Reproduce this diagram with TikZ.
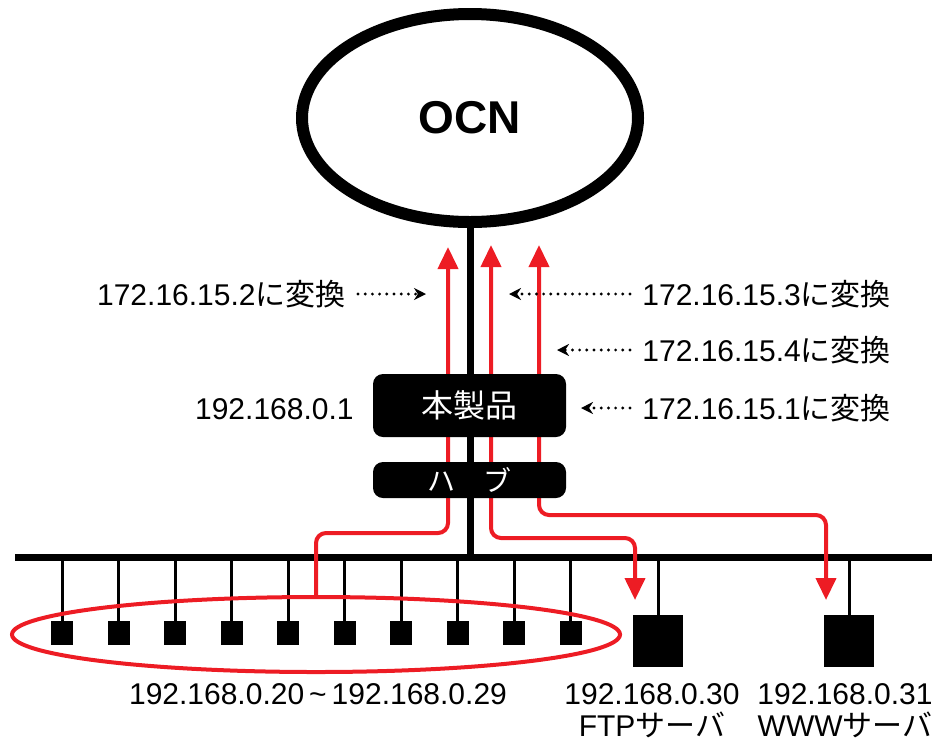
\documentclass[tikz,border=0pt]{standalone}
\usepackage{fontspec}
\setmainfont{Liberation Sans}
\newfontfamily\jpfont{Noto Sans CJK JP}
\usetikzlibrary{shapes.geometric, arrows.meta, backgrounds}
\definecolor{netred}{RGB}{237,28,36}
\tikzstyle{cloud} = [
    ellipse,
    draw=black,
    line width=6pt,
    minimum width=168pt,
    minimum height=104pt,
    font=\bfseries\fontsize{23}{27}\selectfont
]
\tikzstyle{device} = [
    rectangle,
    rounded corners=5pt,
    fill=black,
    text=white,
    minimum width=96.5pt
]
\tikzstyle{pc} = [
    rectangle,
    fill=black,
    minimum width=11pt,
    minimum height=12pt,
    inner sep=0pt
]
\tikzstyle{server} = [
    rectangle,
    fill=black,
    minimum width=25pt,
    minimum height=26pt,
    inner sep=0pt
]
\tikzstyle{addr} = [font=\fontsize{15}{16}\selectfont, inner sep=2pt]
\tikzstyle{wire} = [line width=3.5pt]
\tikzstyle{drop} = [line width=1.5pt]
\tikzstyle{redarrow} = [
    draw=netred,
    line width=2pt,
    rounded corners=5pt,
    >={Triangle[width=10pt,length=11pt]}
]
\tikzstyle{dotarrow} = [
    line width=1.6pt,
    line cap=round,
    dash pattern=on 0pt off 3.6pt,
    -{Stealth[length=6pt,width=6pt]},
    shorten <=4pt
]

\begin{document}
\begin{tikzpicture}[x=0.5pt, y=-0.5pt]
\useasboundingbox (0,0) rectangle (940,745);

\node (ocn) [cloud] at (470,118) {OCN};

\node (router) [device, minimum height=31.5pt, font=\jpfont\fontsize{16}{18}\selectfont] at (469.5,405.5) {本製品};
\node (hub) [device, minimum height=18pt, inner sep=0pt, font=\jpfont\fontsize{14}{15}\selectfont] at (469.5,480) {ハ\hspace{14pt}ブ};

% LAN side
\coordinate (busL) at (15,557);
\coordinate (busR) at (932,557);
\foreach \i in {0,...,9}
    \node (pc\i) [pc] at ({62+56.5*\i},633) {};
\node (ftp) [server] at (658,641) {};
\node (www) [server] at (849,641) {};
\node (pcgroup) [ellipse, draw=netred, line width=2pt, inner sep=0pt,
    minimum width=304pt, minimum height=37.5pt] at (316,634.5) {};

% free ends of the red arrows
\coordinate (up1) at (448,247);
\coordinate (up2) at (491,245);
\coordinate (up3) at (539,245);
\coordinate (dn1) at (635,600);
\coordinate (dn2) at (826,600);

% address labels
\node (nat2) [addr, anchor=east] at (350,294) {172.16.15.2{\jpfont に変換}};
\node (nat3) [addr, anchor=west] at (638,294) {172.16.15.3{\jpfont に変換}};
\node (nat4) [addr, anchor=west] at (638,350) {172.16.15.4{\jpfont に変換}};
\node (nat1) [addr, anchor=west] at (638,408) {172.16.15.1{\jpfont に変換}};
\node (lanip) [addr, anchor=east] at (358,409) {192.168.0.1};
\node (pcip) [addr] at (318,694) {192.168.0.20\,\textasciitilde\,192.168.0.29};
\node (ftpip) [addr, align=center] at (652,711) {192.168.0.30\\FTP{\jpfont サーバ}};
\node (wwwip) [addr, align=center] at (845,711) {192.168.0.31\\WWW{\jpfont サーバ}};

\coordinate (p2) at (426,294);
\coordinate (p3) at (509,294);
\coordinate (p4) at (557,350);
\coordinate (p1) at (581,408);
\draw [dotarrow] (nat2) -- (p2);
\draw [dotarrow] (nat3) -- (p3);
\draw [dotarrow] (nat4) -- (p4);
\draw [dotarrow] (nat1) -- (p1);

\begin{scope}[on background layer]
\draw [wire] (busL) -- (busR);
\draw [wire] (ocn.south) -- (ocn.south |- busL);
\foreach \i in {0,...,9}
    \draw [drop] (pc\i.north) -- (pc\i.north |- busL);
\draw [drop] (ftp.north) -- (ftp.north |- busL);
\draw [drop] (www.north) -- (www.north |- busL);

\draw [redarrow, ->] (pcgroup.north) -- ++(0,-62) -| (up1);
\draw [redarrow, <->] (up2) |- ([yshift=31pt]dn1) -- (dn1);
\draw [redarrow, <->] (up3) |- ([yshift=42.5pt]dn2) -- (dn2);
\end{scope}

\end{tikzpicture}
\end{document}
